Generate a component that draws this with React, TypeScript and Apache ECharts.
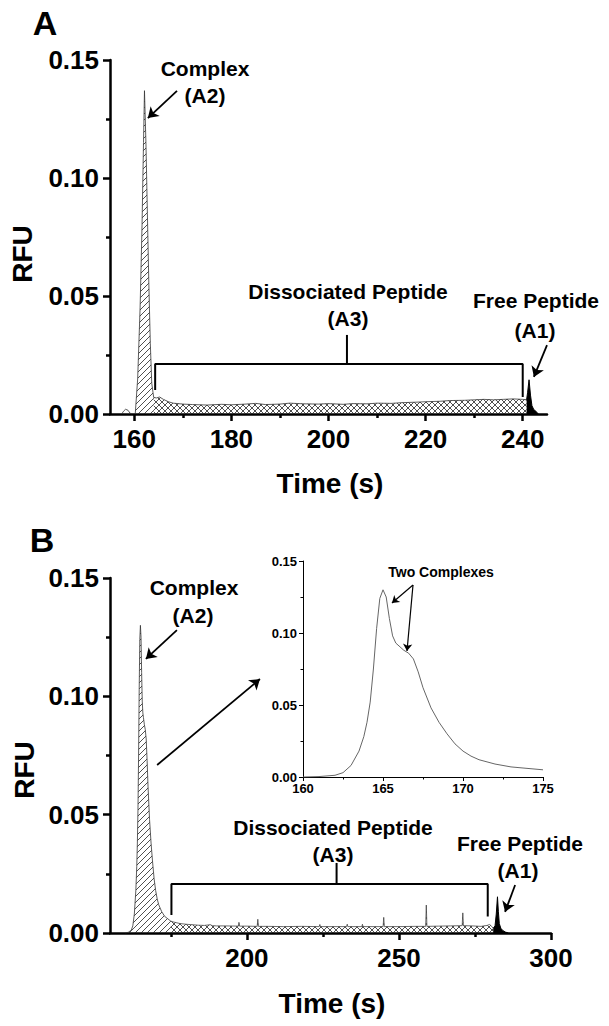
import React, { useEffect, useRef } from 'react';
import * as echarts from 'echarts';

// ---------- Panel A data ----------
const aBump: [number, number][] = [[157.4, 0], [157.8, 0.0012], [158.2, 0.002], [158.7, 0.0016], [159.1, 0.0004], [159.5, 0]];
const aComplex: [number, number][] = [
  [160.2, 0], [160.7, 0.015], [161.2, 0.045], [161.6, 0.08], [161.9, 0.115], [162.1, 0.137],
  [162.4, 0.115], [162.7, 0.085], [163.0, 0.055], [163.3, 0.03], [163.6, 0.013], [164.0, 0.007],
];
const aDiss: [number, number][] = [
  [164.0, 0.007], [164.6, 0.0068], [165.2, 0.0072], [166, 0.0062], [167, 0.0052], [168, 0.0046], [170, 0.0042],
  [172, 0.004], [175, 0.0038], [178, 0.0041], [180, 0.0039], [183, 0.0042], [185, 0.0045], [187, 0.004],
  [190, 0.0042], [192, 0.0046], [195, 0.0043], [198, 0.0042], [200, 0.0044], [203, 0.0041], [205, 0.0044],
  [208, 0.0043], [210, 0.0046], [213, 0.0045], [215, 0.0048], [218, 0.005], [220, 0.0052], [223, 0.0054],
  [225, 0.0057], [228, 0.0058], [230, 0.006], [232, 0.0062], [234, 0.006], [236, 0.0062], [238, 0.0064],
  [240, 0.0062], [240.8, 0.006],
];
const aFree: [number, number][] = [
  [240.8, 0.006], [241.0, 0.009], [241.3, 0.0145], [241.6, 0.008], [241.9, 0.0035], [242.3, 0.0018],
  [242.7, 0.0012], [243.2, 0],
];
const aBracket: [number, number][] = [[164.3, 0.0102], [164.3, 0.0212], [240.0, 0.0212], [240.0, 0.0072]];
const aBracketTick: [number, number][] = [[203.8, 0.0212], [203.8, 0.0335]];
const aArrows: [number, number][][] = [
  [[168.8, 0.1369], [162.8, 0.1254]],
  [[245.0, 0.0292], [242.3, 0.0157]],
];
const aMajorTicks = [160, 180, 200, 220, 240];
const aMinorTicks = [170, 190, 210, 230];

// ---------- Panel B data ----------
const bComplex: [number, number][] = [
  [160, 0], [161, 0.0003], [162, 0.0012], [162.5, 0.003], [163, 0.008], [163.5, 0.018], [163.8, 0.028],
  [164, 0.038], [164.2, 0.052], [164.4, 0.075], [164.6, 0.103], [164.8, 0.124], [165, 0.13], [165.2, 0.125],
  [165.4, 0.11], [165.6, 0.098], [165.8, 0.093], [166, 0.091], [166.3, 0.088], [166.6, 0.086], [166.9, 0.082],
  [167.2, 0.073], [167.5, 0.062], [168, 0.048], [168.5, 0.038], [169, 0.03], [169.5, 0.023], [170, 0.018],
  [170.5, 0.0145], [171, 0.012], [172, 0.009], [173, 0.007], [174, 0.006], [175, 0.005],
];
const bDiss: [number, number][] = [
  [175, 0.005], [176, 0.0046], [177, 0.0043], [178, 0.004], [180, 0.0037], [182, 0.0035], [184, 0.0033],
  [186, 0.0032], [188, 0.0035], [188.6, 0.0031], [190, 0.003], [193, 0.003], [197.2, 0.0029], [197.4, 0.0045],
  [197.6, 0.0029], [200, 0.0029], [203.4, 0.0028], [203.6, 0.0058], [203.8, 0.0028], [207, 0.0028],
  [212, 0.0027], [218, 0.0028], [223.8, 0.0027], [224, 0.0036], [224.2, 0.0027], [228, 0.0027],
  [232.8, 0.0027], [233, 0.0037], [233.2, 0.0027], [237.8, 0.0027], [238, 0.0037], [238.2, 0.0027],
  [242, 0.0027], [244.8, 0.0027], [245, 0.0066], [245.2, 0.0027], [250, 0.0027], [255, 0.0028],
  [258.8, 0.0028], [259, 0.0118], [259.2, 0.0028], [263, 0.0029], [267, 0.003], [270.8, 0.0031],
  [271, 0.0085], [271.2, 0.0031], [274, 0.003], [277, 0.0028], [279, 0.0032], [279.8, 0.0036],
  [280.5, 0.0028], [281, 0.002],
];
const bFree: [number, number][] = [
  [281, 0.002], [281.6, 0.003], [282, 0.008], [282.4, 0.0153], [282.7, 0.009], [283, 0.004],
  [283.5, 0.002], [284.2, 0.001], [285, 0.0004], [286, 0],
];
const bBracket: [number, number][] = [[175.2, 0.0076], [175.2, 0.0207], [279.2, 0.0207], [279.2, 0.007]];
const bBracketTick: [number, number][] = [[229.5, 0.0207], [229.5, 0.0296]];
const bArrows: [number, number][][] = [
  [[177.0, 0.128], [166.8, 0.1158]],
  [[170.5, 0.071], [204.3, 0.1073]],
  [[288.2, 0.0203], [284.9, 0.0089]],
];
const bMajorTicks = [200, 250, 300];
const bMinorTicks = [175, 225, 275];

// ---------- Inset ----------
const insetArrows: [number, number][][] = [
  [[166.875, 0.1333], [165.56, 0.1208]],
  [[166.875, 0.1333], [166.5, 0.0875]],
];

const FONT = '"Liberation Sans", Arial, Helvetica, sans-serif';

function makeHatch(cross: boolean): HTMLCanvasElement {
  const s = 6;
  const c = document.createElement('canvas');
  c.width = s;
  c.height = s;
  const g = c.getContext('2d')!;
  g.strokeStyle = '#222';
  g.lineWidth = 0.8;
  g.beginPath();
  g.moveTo(-1, s + 1); g.lineTo(s + 1, -1);
  g.moveTo(-1, 1); g.lineTo(1, -1);
  g.moveTo(s - 1, s + 1); g.lineTo(s + 1, s - 1);
  if (cross) {
    g.moveTo(-1, -1); g.lineTo(s + 1, s + 1);
    g.moveTo(s - 1, -1); g.lineTo(s + 1, 1);
    g.moveTo(-1, s - 1); g.lineTo(1, s + 1);
  }
  g.stroke();
  return c;
}

function txt(text: string, x: number, y: number, size: number, rotation = 0) {
  return {
    type: 'text', x, y, rotation,
    style: {
      text, fill: '#000', font: `bold ${size}px ${FONT}`,
      textAlign: 'center', textVerticalAlign: 'middle',
    },
  };
}

function arrowMarks(arrs: [number, number][][], width: number, size: number) {
  return {
    silent: true,
    symbol: ['none', 'arrow'],
    symbolSize: size,
    label: { show: false },
    lineStyle: { color: '#000', width, type: 'solid' },
    itemStyle: { color: '#000' },
    emphasis: { disabled: true },
    data: arrs.map(([p, q]) => [{ coord: p }, { coord: q }]),
  };
}

function mainXAxis(grid: number, min: number, max: number, ticks: number[]) {
  return {
    type: 'value', gridIndex: grid, min, max, position: 'bottom',
    axisLine: { show: true, onZero: false, lineStyle: { color: '#000', width: 2.5 } },
    axisTick: { show: true, customValues: ticks, length: 7, lineStyle: { color: '#000', width: 2.5 } },
    axisLabel: { customValues: ticks, color: '#000', fontSize: 26, fontWeight: 'bold', fontFamily: FONT, margin: 12 },
    splitLine: { show: false },
  };
}
function minorXAxis(grid: number, min: number, max: number, ticks: number[]) {
  return {
    type: 'value', gridIndex: grid, min, max, position: 'bottom',
    axisLine: { show: false, onZero: false },
    axisTick: { show: true, customValues: ticks, length: 4, lineStyle: { color: '#000', width: 2.5 } },
    axisLabel: { show: false },
    splitLine: { show: false },
  };
}
function mainYAxis(grid: number) {
  return {
    type: 'value', gridIndex: grid, min: 0, max: 0.15, interval: 0.05,
    axisLine: { show: true, onZero: false, lineStyle: { color: '#000', width: 2.5 } },
    axisTick: { show: true, length: 7, lineStyle: { color: '#000', width: 2.5 } },
    minorTick: { show: true, splitNumber: 2, length: 4, lineStyle: { color: '#000', width: 2.5 } },
    axisLabel: { color: '#000', fontSize: 26, fontWeight: 'bold', fontFamily: FONT, margin: 11, formatter: (v: number) => v.toFixed(2) },
    splitLine: { show: false },
    minorSplitLine: { show: false },
  };
}

export default function App() {
  const ref = useRef<HTMLDivElement>(null);
  useEffect(() => {
    document.body.style.margin = '0';
    const chart = echarts.init(ref.current!, undefined, { renderer: 'svg' });
    const diag = { image: makeHatch(false), repeat: 'repeat' };
    const cross = { image: makeHatch(true), repeat: 'repeat' };
    const thin = { color: '#333', width: 0.8 };
    const base = { type: 'line', showSymbol: false, silent: true, animation: false };

    const option: any = {
      animation: false,
      backgroundColor: '#fff',
      grid: [
        { left: 110, top: 60, width: 437, height: 354 },
        { left: 110, top: 578, width: 441, height: 355 },
        { left: 303, top: 561, width: 240, height: 216 },
      ],
      xAxis: [
        mainXAxis(0, 155, 245, aMajorTicks),
        minorXAxis(0, 155, 245, aMinorTicks),
        mainXAxis(1, 155, 300, bMajorTicks),
        minorXAxis(1, 155, 300, bMinorTicks),
        {
          type: 'value', gridIndex: 2, min: 160, max: 175, interval: 5,
          axisLine: { show: true, onZero: false, lineStyle: { color: '#000', width: 1 } },
          axisTick: { show: true, length: 4, lineStyle: { color: '#000', width: 1 } },
          minorTick: { show: true, splitNumber: 2, length: 2.5, lineStyle: { color: '#000', width: 1 } },
          axisLabel: { color: '#000', fontSize: 13, fontWeight: 'bold', fontFamily: FONT, margin: 5 },
          splitLine: { show: false },
          minorSplitLine: { show: false },
        },
      ],
      yAxis: [
        mainYAxis(0),
        mainYAxis(1),
        {
          type: 'value', gridIndex: 2, min: 0, max: 0.15, interval: 0.05,
          axisLine: { show: true, onZero: false, lineStyle: { color: '#000', width: 1 } },
          axisTick: { show: true, length: 4, lineStyle: { color: '#000', width: 1 } },
          minorTick: { show: true, splitNumber: 2, length: 2.5, lineStyle: { color: '#000', width: 1 } },
          axisLabel: { color: '#000', fontSize: 13, fontWeight: 'bold', fontFamily: FONT, margin: 6, formatter: (v: number) => v.toFixed(2) },
          splitLine: { show: false },
          minorSplitLine: { show: false },
        },
      ],
      series: [
        // Panel A
        { ...base, xAxisIndex: 0, yAxisIndex: 0, data: aBump, lineStyle: thin },
        { ...base, xAxisIndex: 0, yAxisIndex: 0, data: aComplex, lineStyle: thin, areaStyle: { color: diag, opacity: 1 } },
        { ...base, xAxisIndex: 0, yAxisIndex: 0, data: aDiss, lineStyle: thin, areaStyle: { color: cross, opacity: 1 } },
        { ...base, xAxisIndex: 0, yAxisIndex: 0, data: aFree, lineStyle: { color: '#000', width: 1 }, areaStyle: { color: '#000', opacity: 1 } },
        { ...base, xAxisIndex: 0, yAxisIndex: 0, data: aBracket, lineStyle: { color: '#000', width: 2 } },
        { ...base, xAxisIndex: 0, yAxisIndex: 0, data: aBracketTick, lineStyle: { color: '#000', width: 2 }, markLine: arrowMarks(aArrows, 1.8, 10) },
        // Panel B
        { ...base, xAxisIndex: 2, yAxisIndex: 1, data: bComplex, lineStyle: thin, areaStyle: { color: diag, opacity: 1 } },
        { ...base, xAxisIndex: 2, yAxisIndex: 1, data: bDiss, lineStyle: { color: '#444', width: 0.8 }, areaStyle: { color: cross, opacity: 1 } },
        { ...base, xAxisIndex: 2, yAxisIndex: 1, data: bFree, lineStyle: { color: '#000', width: 1 }, areaStyle: { color: '#000', opacity: 1 } },
        { ...base, xAxisIndex: 2, yAxisIndex: 1, data: bBracket, lineStyle: { color: '#000', width: 2 } },
        { ...base, xAxisIndex: 2, yAxisIndex: 1, data: bBracketTick, lineStyle: { color: '#000', width: 2 }, markLine: arrowMarks(bArrows, 1.8, 10) },
        // Inset
        { ...base, xAxisIndex: 4, yAxisIndex: 2, data: bComplex, lineStyle: { color: '#666', width: 1 }, markLine: arrowMarks(insetArrows, 1.2, 7) },
      ],
      graphic: [
        txt('A', 45, 23, 34),
        txt('Complex', 205, 68, 21),
        txt('(A2)', 205, 95, 21),
        txt('Dissociated Peptide', 348, 291, 21),
        txt('(A3)', 348, 318, 21),
        txt('Free Peptide', 536, 300, 21),
        txt('(A1)', 535, 330, 21),
        txt('Time (s)', 330, 483, 28),
        txt('RFU', 22, 254, 28, Math.PI / 2),
        txt('B', 42, 540, 34),
        txt('Complex', 194, 587, 21),
        txt('(A2)', 193, 615, 21),
        txt('Dissociated Peptide', 333, 827, 21),
        txt('(A3)', 333, 854, 21),
        txt('Free Peptide', 520, 843, 21),
        txt('(A1)', 518, 870, 21),
        txt('Time (s)', 332, 1003, 28),
        txt('RFU', 24, 770, 28, Math.PI / 2),
        txt('Two Complexes', 441, 572, 14),
      ],
    };
    chart.setOption(option);
    return () => chart.dispose();
  }, []);
  return <div ref={ref} style={{ width: 609, height: 1026 }} />;
}
